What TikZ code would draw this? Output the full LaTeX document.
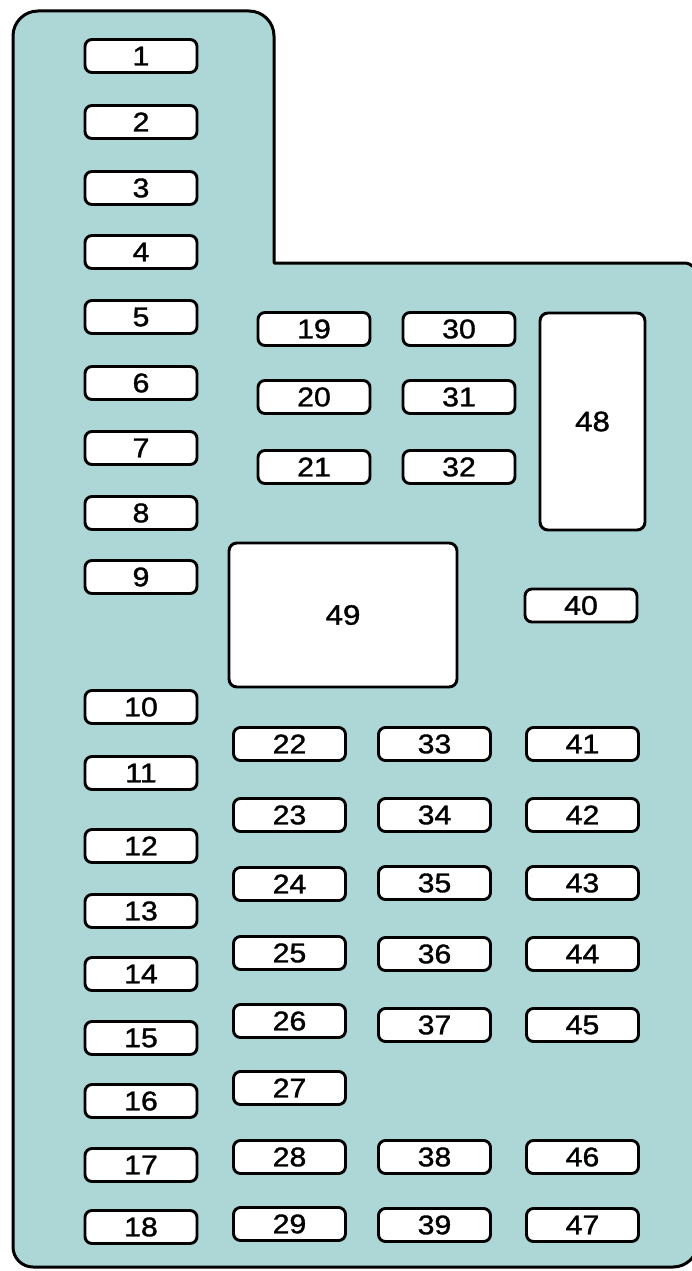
\documentclass[tikz,border=0pt]{standalone}
\usepackage{fontspec}
\setmainfont{Liberation Sans}
\newfontfamily\fusefont[FakeBold=1.2]{Liberation Sans}
\definecolor{panelfill}{RGB}{173,214,214}
\tikzset{
  panel/.style={draw=black, fill=panelfill, line width=3pt, line join=round},
  fusebox/.style={draw=black, fill=white, line width=2.9pt, rounded corners=7pt,
    minimum width=112pt, minimum height=33pt, inner sep=0pt,
    font=\fusefont\fontsize{27}{27}\selectfont},
  bigbox/.style={draw=black, fill=white, line width=2.9pt, rounded corners=8pt,
    inner sep=0pt, font=\fusefont\fontsize{28}{28}\selectfont}
}
\newcommand{\lbl}[1]{\scalebox{1.12}[1]{#1}}
\begin{document}
\begin{tikzpicture}[x=1pt,y=-1pt]
\useasboundingbox (0,0) rectangle (692,1271);
\draw[panel] (13,600) [rounded corners=25pt] -- (13,11) -- (274,11) [sharp corners] -- (274,263) [rounded corners=14pt] -- (698,263) [rounded corners=25pt] -- (698,1267) [rounded corners=20pt] -- (13,1267) [sharp corners] -- cycle;
% column A
\foreach \n/\y in {1/56,2/122,3/188,4/252,5/317,6/383,7/448,8/513,9/577,10/707,11/773,12/846,13/911,14/974,15/1038,16/1101,17/1165,18/1227}
  \node[fusebox] (f\n) at (141,\y) {\lbl{\n}};
% columns B, C
\foreach \n/\y in {19/329,20/397,21/467}
  \node[fusebox] (f\n) at (314,\y) {\lbl{\n}};
\foreach \n/\y in {30/329,31/397,32/467}
  \node[fusebox] (f\n) at (459,\y) {\lbl{\n}};
% column D
\foreach \n/\y in {22/744,23/815,24/884,25/953,26/1021,27/1088,28/1157,29/1224}
  \node[fusebox] (f\n) at (289.5,\y) {\lbl{\n}};
% column E
\foreach \n/\y in {33/744,34/815,35/883,36/954,37/1025,38/1157,39/1225}
  \node[fusebox] (f\n) at (434.5,\y) {\lbl{\n}};
% column F
\foreach \n/\y in {41/744,42/815,43/883,44/954,45/1025,46/1157,47/1225}
  \node[fusebox] (f\n) at (582.5,\y) {\lbl{\n}};
\node[fusebox] (f40) at (581,605.5) {\lbl{40}};
% relays
\node[bigbox, minimum width=105pt, minimum height=217pt] (f48) at (592.5,421.5) {\lbl{48}};
\node[bigbox, minimum width=228pt, minimum height=144pt] (f49) at (343,615) {\lbl{49}};
\end{tikzpicture}
\end{document}
